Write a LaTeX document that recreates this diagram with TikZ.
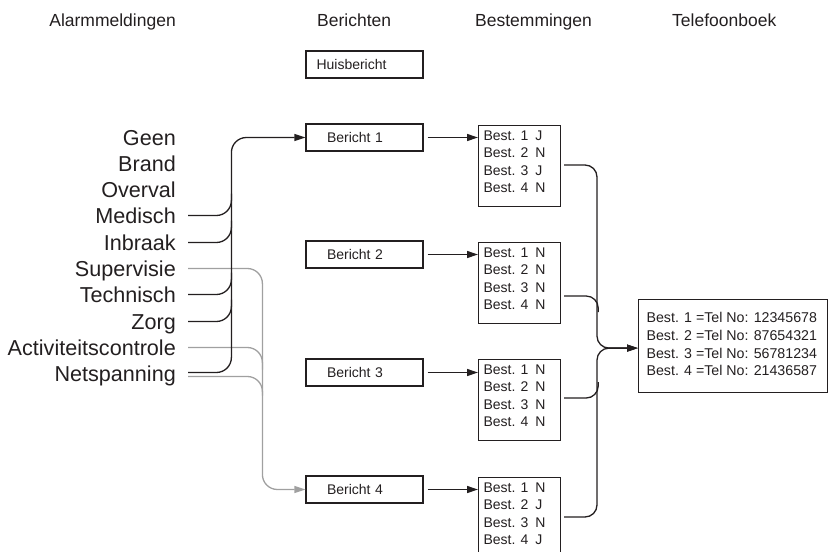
\documentclass[tikz,border=0pt]{standalone}
\usepackage{fontspec}
\setmainfont{Liberation Sans}
\usetikzlibrary{arrows.meta,calc}
\definecolor{lgray}{HTML}{A0A0A0}
\definecolor{ink}{HTML}{231F20}
\begin{document}
\begin{tikzpicture}[x=1pt,y=-1pt,
  hdr/.style={font=\fontsize{17.5}{20}\selectfont, inner sep=0pt, text=ink, anchor=base west},
  lbl/.style={font=\fontsize{21.6}{25}\selectfont, inner sep=0pt, anchor=east, text height=15.5pt, text depth=0pt, text=ink},
  msgbox/.style={draw=ink, line width=1.2pt, minimum height=27pt, text width=96pt, inner xsep=10.5pt, inner ysep=0pt, align=left, font=\fontsize{14}{17}\selectfont, text=ink},
  destbox/.style={draw=ink, line width=1.2pt, inner xsep=5pt, inner ysep=5pt, anchor=north west, text=ink},
  bl/.style={draw=ink, line width=1.3pt},
  gl/.style={draw=lgray, line width=1.3pt},
  arr/.style={-{Triangle[length=11pt,width=7pt]}},
]
\useasboundingbox (0,0) rectangle (828,552);
\clip (0,0) rectangle (828,552);

% headers
\node[hdr, anchor=base east] (h1) at (176,26) {Alarmmeldingen};
\node[hdr] (h2) at (317,26) {Berichten};
\node[hdr] (h3) at (475,26) {Bestemmingen};
\node[hdr] (h4) at (672,26) {Telefoonboek};

% alarm labels
\node[lbl] (l1) at (176,137.5) {Geen};
\node[lbl] (l2) at (176,163.5) {Brand};
\node[lbl] (l3) at (176,189.5) {Overval};
\node[lbl] (l4) at (176,215.5) {Medisch};
\node[lbl] (l5) at (176,242.5) {Inbraak};
\node[lbl] (l6) at (176,268.5) {Supervisie};
\node[lbl] (l7) at (176,294.5) {Technisch};
\node[lbl] (l8) at (176,321.5) {Zorg};
\node[lbl] (l9) at (176,347.5) {Activiteitscontrole};
\node[lbl] (l10) at (176,373.5) {Netspanning};

% message boxes
\node[msgbox] (hb) at (364.5,64.5) {Huisbericht};
\node[msgbox] (b1) at (364.5,137.5) {\hspace*{10.5pt}Bericht 1};
\node[msgbox] (b2) at (364.5,254.5) {\hspace*{10.5pt}Bericht 2};
\node[msgbox] (b3) at (364.5,372.5) {\hspace*{10.5pt}Bericht 3};
\node[msgbox] (b4) at (364.5,489.5) {\hspace*{10.5pt}Bericht 4};

% destination boxes
\newcommand{\destlines}[4]{\parbox[c][71pt][t]{72pt}{\fontsize{14}{17.5}\selectfont
Best. 1\hspace{7pt}#1\\Best. 2\hspace{7pt}#2\\Best. 3\hspace{7pt}#3\\Best. 4\hspace{7pt}#4}}
\node[destbox] (d1) at (478,125) {\destlines{J}{N}{J}{N}};
\node[destbox] (d2) at (478,242) {\destlines{N}{N}{N}{N}};
\node[destbox] (d3) at (478,359) {\destlines{N}{N}{N}{N}};
\node[destbox] (d4) at (478,477) {\destlines{N}{J}{N}{J}};

% phone book
\node[destbox, inner xsep=8pt, inner ysep=13pt] (t) at (638,299) {\parbox[c][67pt][t]{173pt}{\fontsize{14.2}{17.6}\selectfont
Best. 1 =Tel No: 12345678\\Best. 2 =Tel No: 87654321\\Best. 3 =Tel No: 56781234\\Best. 4 =Tel No: 21436587}};

% gray connectors (to Bericht 4)
\draw[gl, rounded corners=15pt, arr] ([xshift=12pt]l6.east) -| ($(b4.west)+(-43,0)$) -- (b4.west);
\draw[gl, rounded corners=15pt] ([xshift=12pt]l9.east) -| ($(b4.west |- l9.east)+(-43,22)$);
\draw[gl, rounded corners=15pt] ([xshift=12pt,yshift=-3pt]l10.east) -| ($(b4.west |- l10.east)+(-43,22)$);

% black connectors (to Bericht 1)
\draw[bl, rounded corners=15pt, arr] ([xshift=12pt,yshift=1pt]l10.east) -| ($(b1.west)+(-74,0)$) -- (b1.west);
\foreach \l in {l4,l5,l7,l8}{
  \draw[bl, rounded corners=15pt] ([xshift=12pt]\l.east) -| ($(b1.west |- \l.east)+(-74,-22)$);
}

% message -> destinations
\foreach \i in {1,2,3,4}{
  \draw[bl, arr, shorten <=4pt] (b\i.east) -- (d\i.west |- b\i.east);
}

% destinations -> phone book
\draw[bl, rounded corners=12pt, arr] ($(d1.north east)+(3,40)$) -| ($(t.west)+(-41,2)$) -- ($(t.west)+(0,2)$);
\draw[bl, rounded corners=12pt, arr] ($(d4.north east)+(3,40)$) -| ($(t.west)+(-41,2)$) -- ($(t.west)+(0,2)$);
\draw[bl, rounded corners=12pt] ($(d2.north east)+(3,54)$) -| ($(d2.north east)+(37,70)$);
\draw[bl, rounded corners=12pt] ($(d3.north east)+(3,39)$) -| ($(d3.north east)+(37,23)$);
\end{tikzpicture}
\end{document}
